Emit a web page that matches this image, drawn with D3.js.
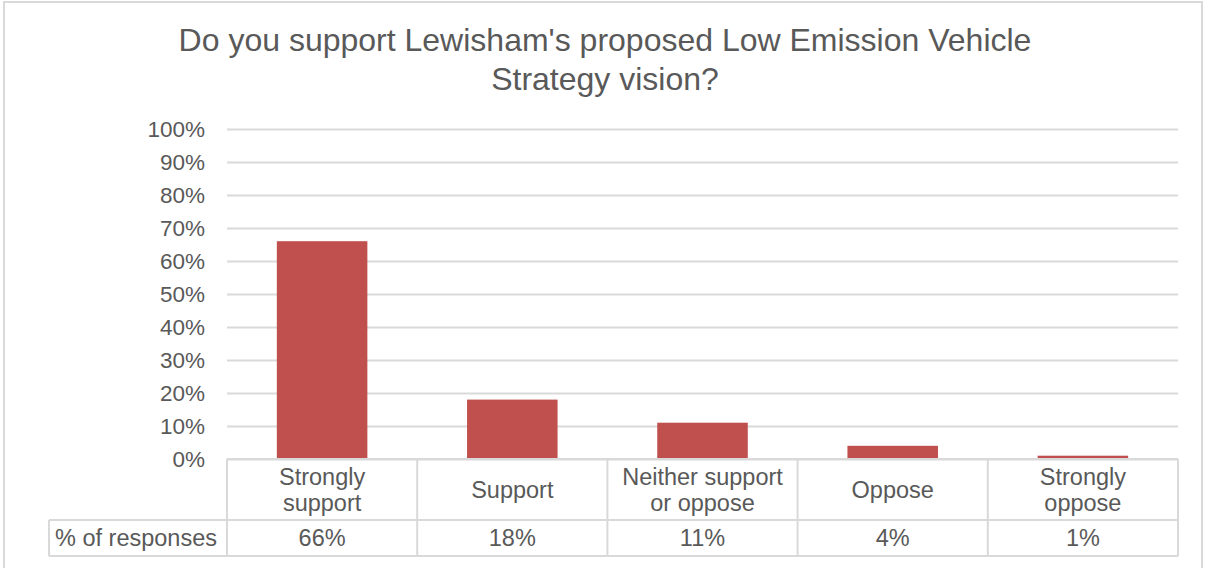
<!DOCTYPE html>
<html>
<head>
<meta charset="utf-8">
<script src="https://cdn.jsdelivr.net/npm/d3@7/dist/d3.min.js"></script>
<style>
  html, body { margin: 0; padding: 0; background: #ffffff; }
  svg { display: block; }
  text { font-family: "Liberation Sans", Arial, sans-serif; fill: #595959; }
</style>
</head>
<body>
<script>
// Survey responses: share of respondents per answer
const categories = [
  ["Strongly", "support"],
  ["Support"],
  ["Neither support", "or oppose"],
  ["Oppose"],
  ["Strongly", "oppose"]
];
const values = [0.66, 0.18, 0.11, 0.04, 0.01];
const valueLabels = ["66%", "18%", "11%", "4%", "1%"];
const yTicks = [0, 0.1, 0.2, 0.3, 0.4, 0.5, 0.6, 0.7, 0.8, 0.9, 1.0];
const seriesName = "% of responses";
const titleLines = ["Do you support Lewisham's proposed Low Emission Vehicle", "Strategy vision?"];

const W = 1206, H = 568;
const plot = { left: 227, right: 1178, top: 129, bottom: 459 };
const headerBottom = 520, tableBottom = 556, rowLabelLeft = 49;
const gridColor = "#d9d9d9", barColor = "#c0504d";
const tableFont = "23.5px";

const svg = d3.select("body").append("svg").attr("width", W).attr("height", H);

// Chart frame
svg.append("rect")
  .attr("x", 4).attr("y", 2).attr("width", 1198).attr("height", 620)
  .attr("fill", "#fff").attr("stroke", gridColor).attr("stroke-width", 2);

// Title
svg.append("g").selectAll("text").data(titleLines).join("text")
  .attr("x", 605).attr("y", (d, i) => 51 + i * 39)
  .attr("text-anchor", "middle")
  .style("font-size", "32px")
  .text(d => d);

const idx = d3.range(categories.length);
// Columns of the data table (also the category bands)
const xCol = d3.scaleBand().domain(idx).range([plot.left, plot.right]).padding(0);
// Bars within each column (gap width 110%)
const xBar = d3.scaleBand().domain(idx).range([plot.left, plot.right])
  .paddingInner(0.524).paddingOuter(0.262);
const y = d3.scaleLinear().domain([0, 1]).range([plot.bottom, plot.top]);

// Gridlines and percentage labels
const yAxis = d3.axisLeft(y).tickValues(yTicks).tickFormat(d3.format(".0%"))
  .tickSize(-(plot.right - plot.left)).tickPadding(22);
const gy = svg.append("g").attr("transform", `translate(${plot.left},0)`).call(yAxis);
gy.select(".domain").remove();
gy.selectAll(".tick line").attr("stroke", gridColor).attr("stroke-width", 2);
gy.selectAll(".tick text").style("font-size", "22.5px").attr("fill", "#595959")
  .style("font-family", "'Liberation Sans', Arial, sans-serif");

// Bars
svg.append("g").selectAll("rect").data(idx).join("rect")
  .attr("x", i => xBar(i))
  .attr("width", xBar.bandwidth())
  .attr("y", i => y(values[i]))
  .attr("height", i => y(0) - y(values[i]))
  .attr("fill", barColor);

// Data table
const tbl = svg.append("g").attr("stroke", gridColor).attr("stroke-width", 2).attr("fill", "none");
tbl.append("line").attr("x1", plot.left).attr("x2", plot.right).attr("y1", plot.bottom).attr("y2", plot.bottom);
tbl.append("line").attr("x1", rowLabelLeft).attr("x2", plot.right).attr("y1", headerBottom).attr("y2", headerBottom);
tbl.append("line").attr("x1", rowLabelLeft).attr("x2", plot.right).attr("y1", tableBottom).attr("y2", tableBottom);
tbl.append("line").attr("x1", rowLabelLeft).attr("x2", rowLabelLeft).attr("y1", headerBottom).attr("y2", tableBottom);
tbl.selectAll(".col").data(idx.concat([categories.length])).join("line")
  .attr("x1", i => i < categories.length ? xCol(i) : plot.right)
  .attr("x2", i => i < categories.length ? xCol(i) : plot.right)
  .attr("y1", plot.bottom).attr("y2", tableBottom);

const headerMid = (plot.bottom + headerBottom) / 2;
const lineGap = 26;
const headers = svg.append("g").style("font-size", tableFont).attr("text-anchor", "middle");
idx.forEach(i => {
  const lines = categories[i];
  lines.forEach((t, j) => {
    headers.append("text")
      .attr("x", xCol(i) + xCol.bandwidth() / 2)
      .attr("y", headerMid + 8 + (j - (lines.length - 1) / 2) * lineGap)
      .text(t);
  });
});

const valueMid = (headerBottom + tableBottom) / 2;
svg.append("g").style("font-size", tableFont).attr("text-anchor", "middle")
  .selectAll("text").data(idx).join("text")
  .attr("x", i => xCol(i) + xCol.bandwidth() / 2)
  .attr("y", valueMid + 8)
  .text(i => valueLabels[i]);

svg.append("text")
  .attr("x", 55).attr("y", valueMid + 8)
  .style("font-size", tableFont)
  .text(seriesName);
</script>
</body>
</html>
